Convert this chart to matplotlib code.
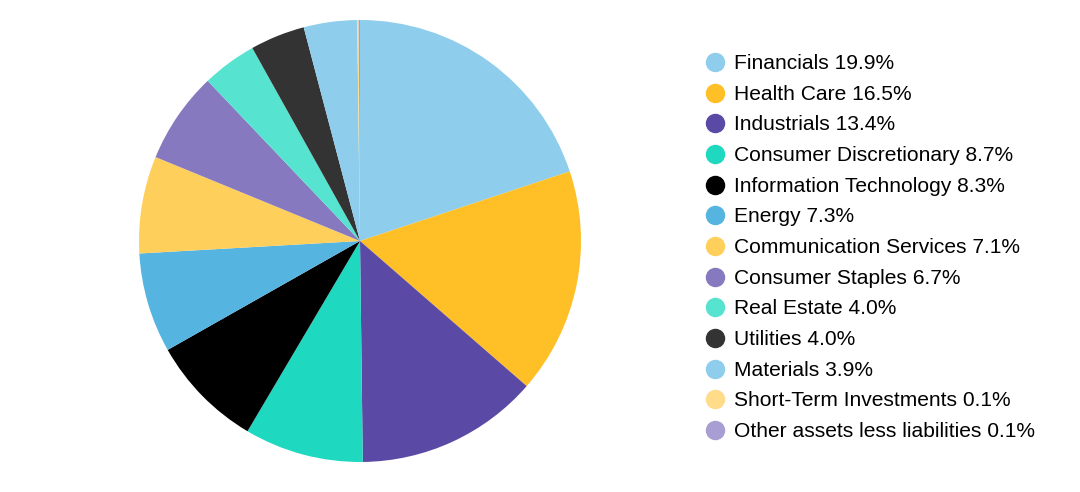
import matplotlib.pyplot as plt
from matplotlib.lines import Line2D

plt.rcParams['font.family'] = ['Liberation Sans', 'DejaVu Sans']

sectors = ["Financials", "Health Care", "Industrials", "Consumer Discretionary",
           "Information Technology", "Energy", "Communication Services",
           "Consumer Staples", "Real Estate", "Utilities", "Materials",
           "Short-Term Investments", "Other assets less liabilities"]
weights = [19.9, 16.5, 13.4, 8.7, 8.3, 7.3, 7.1, 6.7, 4.0, 4.0, 3.9, 0.1, 0.1]
colors = ["#8fcdec", "#ffbf27", "#5a4aa6", "#1fd8c0", "#000000", "#56b4e0",
          "#ffcf5c", "#8679bf", "#56e3d0", "#333333", "#8fcdec", "#ffdc8a",
          "#a99ed3"]

W, H = 1080, 492
fig = plt.figure(figsize=(W / 100, H / 100), dpi=100)

# pie area (pixel box converted to figure fraction)
ax = fig.add_axes([139 / W, 30 / H, 442 / W, 442 / H])
ax.pie(weights, colors=colors, startangle=90, counterclock=False,
       wedgeprops=dict(linewidth=0))
ax.set_xlim(-1, 1)
ax.set_ylim(-1, 1)
ax.set_aspect('equal')

# legend, drawn row by row
for i, (name, w, c) in enumerate(zip(sectors, weights, colors)):
    y = 1 - (62 + i * 30.65) / H
    fig.add_artist(Line2D([715 / W], [y], marker='o', markersize=13,
                          color=c, linestyle='none', transform=fig.transFigure))
    fig.text(734 / W, y - 1.5 / H, f"{name} {w:.1f}%", fontsize=15.1,
             va='center', ha='left')

fig.savefig("out.png", dpi=100)
